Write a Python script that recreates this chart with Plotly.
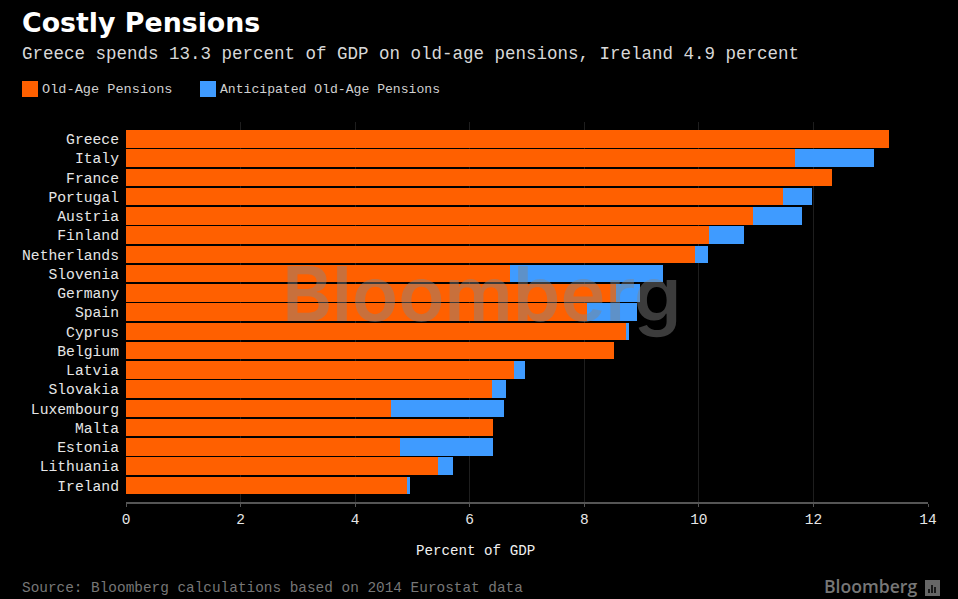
import plotly.graph_objects as go

countries = ["Greece", "Italy", "France", "Portugal", "Austria", "Finland", "Netherlands",
             "Slovenia", "Germany", "Spain", "Cyprus", "Belgium", "Latvia", "Slovakia",
             "Luxembourg", "Malta", "Estonia", "Lithuania", "Ireland"]
old_age = [13.32, 11.67, 12.33, 11.47, 10.95, 10.17, 9.93, 6.7, 8.55, 8.05, 8.72, 8.52,
           6.77, 6.39, 4.62, 6.41, 4.78, 5.45, 4.92]
anticipated = [0, 1.38, 0, 0.5, 0.85, 0.62, 0.23, 2.67, 0.42, 0.87, 0.06, 0,
               0.19, 0.24, 1.98, 0, 1.63, 0.25, 0.03]
x_ticks = [0, 2, 4, 6, 8, 10, 12, 14]

ORANGE = "#ff6000"
BLUE = "#3f9bff"
MONO = "Liberation Mono, DejaVu Sans Mono, monospace"
W, H = 958, 599


# pixel position on the page -> paper coordinates of the plot area
def px(x):
    return (x - 126) / 802


def py(y):
    return (502 - y) / 380


fig = go.Figure()
fig.add_trace(go.Bar(y=countries, x=old_age, name="Old-Age Pensions", orientation="h",
                     marker=dict(color=ORANGE, line=dict(width=0))))
fig.add_trace(go.Bar(y=countries, x=anticipated, name="Anticipated Old-Age Pensions", orientation="h",
                     marker=dict(color=BLUE, line=dict(width=0))))

fig.update_layout(
    width=W, height=H,
    barmode="stack", bargap=0.09, showlegend=False,
    paper_bgcolor="black", plot_bgcolor="black",
    margin=dict(l=126, r=30, t=122, b=97),
    font=dict(family=MONO, color="#e6e6e6", size=14.5),
    title=dict(text="<b>Costly Pensions</b>", x=22 / W, xanchor="left", y=1 - 23 / H, yanchor="middle",
               font=dict(family="DejaVu Sans", size=26.8, color="white")),
    xaxis=dict(range=[0, 14], tickvals=x_ticks, showgrid=True, gridcolor="#1e1e1e", gridwidth=1,
               zeroline=False, showline=True, linecolor="#555555", linewidth=2,
               ticks="outside", ticklen=3, tickcolor="#555555",
               tickfont=dict(size=14.5, color="#e6e6e6")),
    yaxis=dict(type="category", range=[18.86, -0.883], showgrid=False, zeroline=False,
               showline=False, ticks="", ticklabelstandoff=6, tickfont=dict(size=14.7, color="#e6e6e6")),
)

fig.add_annotation(text="Greece spends 13.3 percent of GDP on old-age pensions, Ireland 4.9 percent",
                   xref="paper", yref="paper", x=px(20), y=py(54), xanchor="left", yanchor="middle",
                   showarrow=False, font=dict(size=17.5, color="#d8d8d8"))

# legend, square swatches as in the original
for label, color, x_box, size in [("Old-Age Pensions", ORANGE, 22, 13.6),
                                  ("Anticipated Old-Age Pensions", BLUE, 200, 13.1)]:
    fig.add_shape(type="rect", xref="paper", yref="paper", x0=px(x_box), x1=px(x_box + 16),
                  y0=py(97), y1=py(81), fillcolor=color, line=dict(width=0))
    fig.add_annotation(text=label, xref="paper", yref="paper", x=px(x_box + 18), y=py(89),
                       xanchor="left", yanchor="middle", showarrow=False,
                       font=dict(size=size, color="#d0d0d0"))

# axis title sits left of the plot centre in the original
fig.add_annotation(text="Percent of GDP", xref="paper", yref="paper", x=px(475), y=py(551),
                   xanchor="center", yanchor="middle", showarrow=False,
                   font=dict(size=14.2, color="#f0f0f0"))
fig.add_annotation(text="Source: Bloomberg calculations based on 2014 Eurostat data",
                   xref="paper", yref="paper", x=px(20), y=py(588), xanchor="left", yanchor="middle",
                   showarrow=False, font=dict(size=14.4, color="#777777"))
# watermark
fig.add_annotation(text="Bloomberg", xref="paper", yref="paper", x=px(481), y=py(293),
                   xanchor="center", yanchor="middle", showarrow=False,
                   font=dict(family="Inter", size=76, weight=600, color="rgba(133,133,133,0.45)"))
# logo bottom right
fig.add_annotation(text="Bloomberg", xref="paper", yref="paper", x=px(919), y=py(586),
                   xanchor="right", yanchor="middle", showarrow=False,
                   font=dict(family="Open Sans", size=17.6, weight=600, color="#777777"))
fig.add_shape(type="rect", xref="paper", yref="paper", x0=px(925), x1=px(940),
              y0=py(596), y1=py(580), fillcolor="#666666", line=dict(width=0))
for x_bar, y_top in [(929, 589), (932, 585), (935, 587)]:
    fig.add_shape(type="line", xref="paper", yref="paper", x0=px(x_bar), x1=px(x_bar),
                  y0=py(593), y1=py(y_top), line=dict(color="black", width=1.5))

fig.write_html("out.html", config={"displayModeBar": False},
               post_script="document.body.style.margin='0';")
